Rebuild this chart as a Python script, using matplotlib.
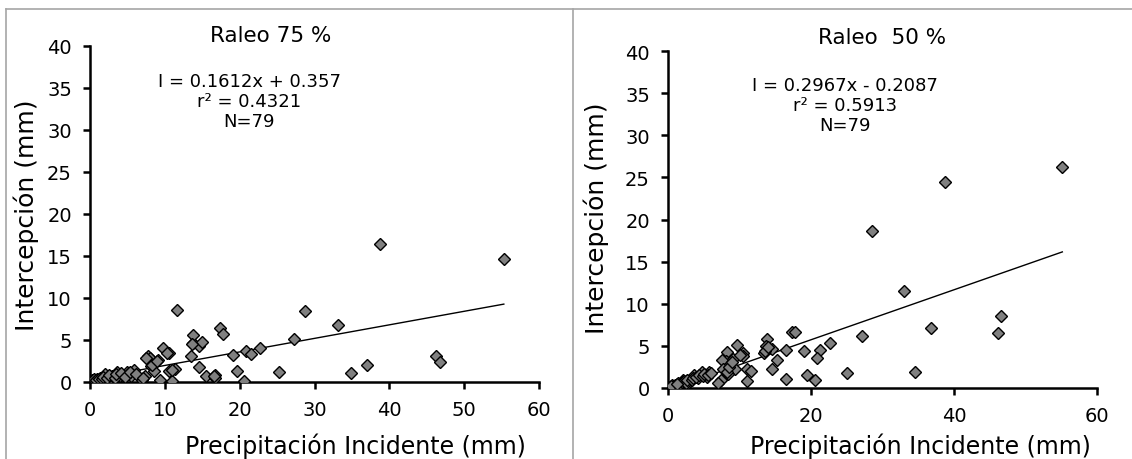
import matplotlib
matplotlib.use("Agg")
import matplotlib.pyplot as plt
from matplotlib.lines import Line2D

# Raleo 75 %
left_x = [0.45, 0.9, 1.1, 1.4, 2.0, 2.9, 3.0, 3.65, 4.0, 4.45, 4.9, 5.1, 5.5, 5.9,
          7.0, 7.35, 7.7, 8.0, 8.2, 8.5, 9.1, 9.3, 9.7, 10.5, 10.5, 11.0, 11.3, 11.6,
          13.5, 13.7, 13.8, 14.6, 14.9, 14.6, 15.5, 16.7, 16.7, 17.4, 17.8, 19.1, 19.7,
          20.6, 20.9, 21.5, 22.7, 25.2, 27.3, 28.7, 33.2, 34.9, 37.0, 38.75, 46.3, 46.8,
          55.3, 0.2, 0.3, 0.6, 0.7, 0.8, 1.2, 1.6, 1.8, 2.3, 2.5, 3.3, 3.5, 4.2, 4.7,
          5.3, 6.2, 7.1, 7.5, 8.3, 9.0, 10.3, 11.0, 13.6, 16.6]
left_y = [0.15, 0.35, 0.1, 0.5, 0.95, 0.35, 0.75, 1.15, 0.7, 0.85, 1.2, 0.95, 0.7, 1.45,
          0.25, 0.7, 3.05, 2.85, 1.9, 1.3, 2.6, 0.25, 4.1, 3.45, 1.35, 0.15, 1.55, 8.6,
          3.1, 4.6, 5.6, 4.3, 4.8, 1.75, 0.75, 0.83, 0.5, 6.4, 5.7, 3.2, 1.3,
          0.15, 3.7, 3.3, 4.05, 1.15, 5.1, 8.4, 6.8, 1.07, 2.07, 16.4, 3.05, 2.4,
          14.7, 0.05, 0.2, 0.3, 0.1, 0.2, 0.4, 0.3, 0.6, 0.5, 0.8, 0.5, 1.0, 1.1, 0.6,
          1.2, 1.0, 0.5, 2.9, 2.0, 2.5, 3.5, 1.4, 4.5, 0.7]

# Raleo 50 %
right_x = [55.15, 38.7, 28.5, 33.0, 46.6, 46.1, 36.8, 27.2, 22.6, 21.3, 25.1, 34.6,
           17.4, 17.8, 20.9, 19.0, 16.5, 13.8, 13.7, 14.6, 13.4, 15.3, 14.5, 16.5, 19.5,
           20.5, 9.6, 10.5, 10.5, 8.2, 8.1, 7.5, 9.05, 7.7, 9.4, 8.4, 11.1, 11.6, 11.0,
           7.4, 7.0, 5.8, 4.7, 3.7, 5.4, 4.25, 3.1, 2.05, 2.85, 1.45, 0.75, 0.3,
           0.2, 0.5, 0.6, 0.9, 1.0, 1.2, 1.7, 1.9, 2.3, 2.5, 2.7, 3.3, 3.5, 3.9, 4.4,
           4.9, 5.1, 5.6, 6.0, 8.3, 8.6, 9.0, 10.0, 13.5, 14.0, 0.4, 1.3]
right_y = [26.2, 24.4, 18.6, 11.55, 8.5, 6.55, 7.1, 6.2, 5.4, 4.5, 1.8, 1.85,
           6.7, 6.7, 3.6, 4.4, 4.5, 5.8, 5.0, 4.6, 4.1, 3.35, 2.25, 1.07, 1.55,
           1.0, 5.1, 4.2, 3.75, 4.3, 3.25, 3.35, 3.45, 2.25, 2.25, 1.65, 2.2, 2.0, 0.87,
           1.0, 0.55, 1.95, 1.85, 1.6, 1.25, 1.15, 0.87, 1.0, 0.55, 0.6, 0.28, 0.1,
           0.05, 0.15, 0.3, 0.2, 0.4, 0.3, 0.5, 0.7, 0.8, 0.6, 0.9, 1.0, 1.2, 1.3, 1.5,
           1.4, 1.7, 1.6, 1.8, 1.9, 2.5, 3.1, 3.9, 4.4, 4.9, 0.2, 0.5]

left_fit = (0.1612, 0.357)
right_fit = (0.2967, -0.2087)

W, H = 1132, 460
fig = plt.figure(figsize=(W / 100, H / 100), dpi=100)


def px(x, y):
    return x / W, 1 - y / H


def panel(rect, xs, ys, fit, xticks):
    ax = fig.add_axes(rect)
    ax.plot(xs, ys, linestyle="none", marker="D", markersize=5.8,
            markerfacecolor="#808080", markeredgecolor="black",
            markeredgewidth=1.0, zorder=3)
    x0, x1 = min(xs), max(xs)
    ax.plot([x0, x1], [fit[0] * x0 + fit[1], fit[0] * x1 + fit[1]],
            color="black", lw=1.0, zorder=2)
    ax.set_xlim(0, 60)
    ax.set_ylim(0, 40)
    ax.set_xticks(xticks)
    ax.set_yticks(range(0, 45, 5))
    for s in ["top", "right"]:
        ax.spines[s].set_visible(False)
    for s in ["left", "bottom"]:
        ax.spines[s].set_linewidth(1.8)
    ax.tick_params(direction="out", length=5, width=1.8, labelsize=14, pad=8)
    return ax


panel([90 / W, 1 - 383 / H, 449 / W, 336 / H], left_x, left_y, left_fit,
      range(0, 70, 10))
panel([668 / W, 1 - 389 / H, 429 / W, 337 / H], right_x, right_y, right_fit,
      range(0, 80, 20))

# chart frames
fc = "#a6a6a6"
fig.add_artist(Line2D([6 / W, 1], [1 - 10 / H] * 2, color=fc, lw=1.2))
fig.add_artist(Line2D([6 / W] * 2, [0, 1 - 10 / H], color=fc, lw=1.2))
fig.add_artist(Line2D([573 / W] * 2, [0, 1 - 10 / H], color=fc, lw=1.2))

fig.text(*px(271, 36), "Raleo 75 %", fontsize=15.5, ha="center", va="center")
fig.text(*px(882, 38), "Raleo  50 %", fontsize=15.5, ha="center", va="center")

fig.text(*px(249, 102), "I = 0.1612x + 0.357\nr² = 0.4321\nN=79",
         fontsize=13, ha="center", va="center", linespacing=1.15)
fig.text(*px(845, 106), "I = 0.2967x - 0.2087\nr² = 0.5913\nN=79",
         fontsize=13, ha="center", va="center", linespacing=1.15)

for xc, yc in [(26, 215), (596, 218)]:
    fig.text(*px(xc, yc), "Intercepción (mm)", fontsize=18, rotation=90,
             ha="center", va="center")
for xc in [355, 920]:
    fig.text(*px(xc, 446), "Precipitación Incidente (mm)", fontsize=17,
             ha="center", va="center")

fig.savefig("out.png", dpi=100)
